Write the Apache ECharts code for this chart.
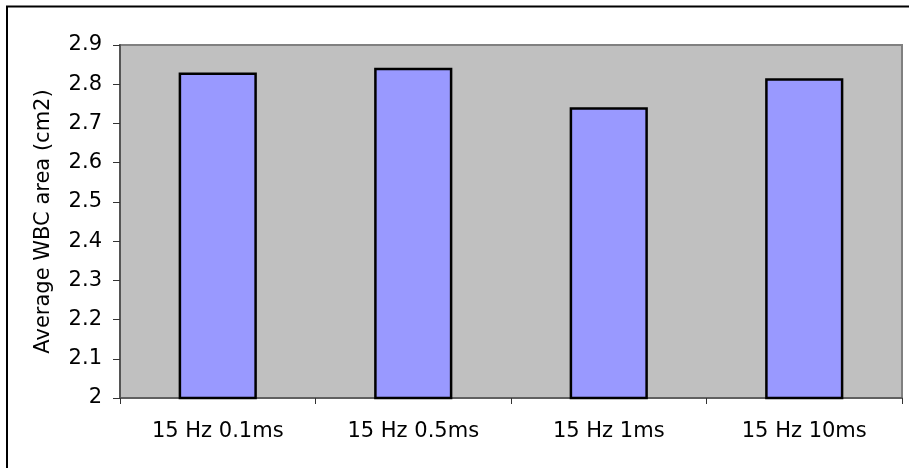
<!DOCTYPE html>
<html>
<head>
<meta charset="utf-8">
<script src="https://cdn.jsdelivr.net/npm/echarts@6/dist/echarts.min.js"></script>
<style>
html,body{margin:0;padding:0;background:#fff;}
#chart{width:909px;height:468px;}
</style>
</head>
<body>
<div id="chart"></div>
<script>
var categories = ['15 Hz 0.1ms', '15 Hz 0.5ms', '15 Hz 1ms', '15 Hz 10ms'];
var values = [2.83, 2.842, 2.741, 2.815];
var yTicks = ['2', '2.1', '2.2', '2.3', '2.4', '2.5', '2.6', '2.7', '2.8', '2.9'];
var yTitle = 'Average WBC area (cm2)';

var chart = echarts.init(document.getElementById('chart'), null, {renderer: 'canvas'});
var font = '"DejaVu Sans", Verdana, sans-serif';
chart.setOption({
  animation: false,
  backgroundColor: '#ffffff',
  textStyle: {fontFamily: font},
  graphic: [{
    type: 'rect',
    shape: {x: 7, y: 6.5, width: 1000, height: 1000},
    style: {fill: 'none', stroke: '#000', lineWidth: 2},
    silent: true
  }],
  grid: {
    left: 120, top: 45, right: 7, bottom: 70,
    show: true,
    backgroundColor: '#c0c0c0',
    borderColor: '#808080',
    borderWidth: 2
  },
  xAxis: {
    type: 'category',
    data: categories,
    boundaryGap: true,
    axisLine: {show: true, lineStyle: {color: '#555', width: 1.5}},
    axisTick: {show: true, length: 6, lineStyle: {color: '#333', width: 1}},
    axisLabel: {color: '#000', fontSize: 21, fontFamily: font, margin: 23}
  },
  yAxis: {
    type: 'value',
    min: 2,
    max: 2.9,
    interval: 0.1,
    name: yTitle,
    nameLocation: 'middle',
    nameRotate: 90,
    nameGap: 66,
    nameTextStyle: {color: '#000', fontSize: 21, fontFamily: font},
    axisLine: {show: true, lineStyle: {color: '#555', width: 2}},
    axisTick: {show: true, length: 7, lineStyle: {color: '#333', width: 1}},
    splitLine: {show: false},
    axisLabel: {
      color: '#000', fontSize: 21, fontFamily: font, margin: 18,
      formatter: function (v) {
        var idx = Math.round((v - 2) * 10);
        return yTicks[idx] !== undefined ? yTicks[idx] : '';
      }
    }
  },
  series: [{
    type: 'bar',
    data: values,
    barWidth: '40%',
    itemStyle: {color: '#9999ff', borderColor: '#000', borderWidth: 2.5}
  }]
});
</script>
</body>
</html>
